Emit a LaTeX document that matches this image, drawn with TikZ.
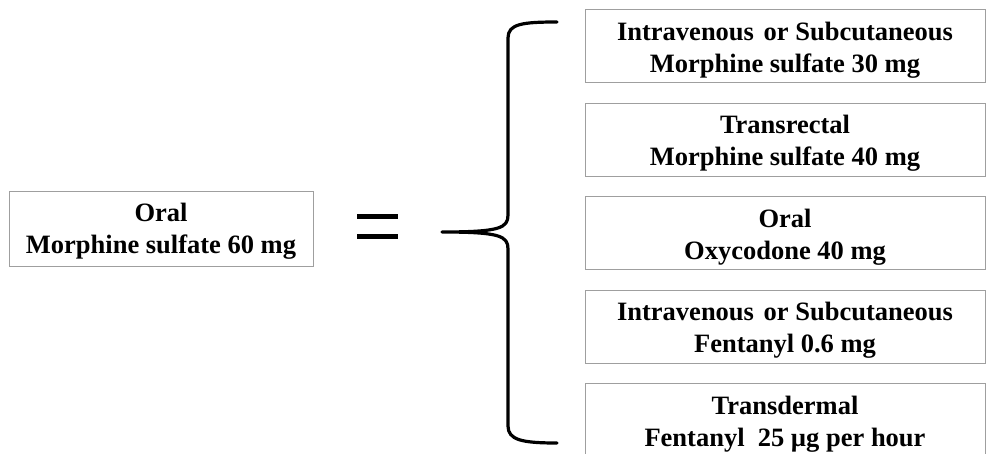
\documentclass[tikz,border=0pt]{standalone}
\usepackage{fontspec}
\setmainfont{Liberation Serif}
\begin{document}
\begin{tikzpicture}[x=1pt,y=-1pt,
  box/.style={draw=gray!75, line width=0.9pt, inner sep=0pt, minimum height=73pt},
  rbox/.style={box, minimum width=400pt},
  txt/.style={align=center, inner sep=0pt,
    font=\bfseries\fontsize{26.5}{32}\selectfont},
  brace/.style={line width=3.2pt, line cap=round, line join=round},
  eqline/.style={line width=5pt}]
\useasboundingbox (0,0) rectangle (987,454);
\clip (0,0) rectangle (987,454);
\node[box, minimum width=304pt, minimum height=75pt] (oral) at (161,228.5) {};
\node[txt] (oralt) at ([yshift=-3pt]oral.center) {Oral\\Morphine sulfate 60 mg};
\draw[eqline] (357,217) -- (398,217);
\draw[eqline] (357,237) -- (398,237);
\draw[brace] (557,22) .. controls (522,22) and (508,24) .. (508,38)
  -- (508,215) .. controls (508,228) and (500,232) .. (442,232)
  (442,232) .. controls (500,232) and (508,236) .. (508,249)
  -- (508,426) .. controls (508,440) and (522,443) .. (557,443);
\node[rbox] (r1) at (785,46) {};
\node[txt] (r1t) at ([yshift=-4pt]r1.center) {Intravenous\hspace{3pt} or Subcutaneous\\Morphine sulfate 30 mg};
\node[rbox] (r2) at (785,139.5) {};
\node[txt] (r2t) at ([yshift=-4pt]r2.center) {Transrectal\\Morphine sulfate 40 mg};
\node[rbox] (r3) at (785,233) {};
\node[txt] (r3t) at ([yshift=-4pt]r3.center) {Oral\\Oxycodone 40 mg};
\node[rbox] (r4) at (785,326.5) {};
\node[txt] (r4t) at ([yshift=-4pt]r4.center) {Intravenous\hspace{3pt} or Subcutaneous\\Fentanyl 0.6 mg};
\node[rbox] (r5) at (785,420) {};
\node[txt] (r5t) at ([yshift=-4pt]r5.center) {Transdermal\\Fentanyl\ \ 25 µg per hour};
\end{tikzpicture}
\end{document}
